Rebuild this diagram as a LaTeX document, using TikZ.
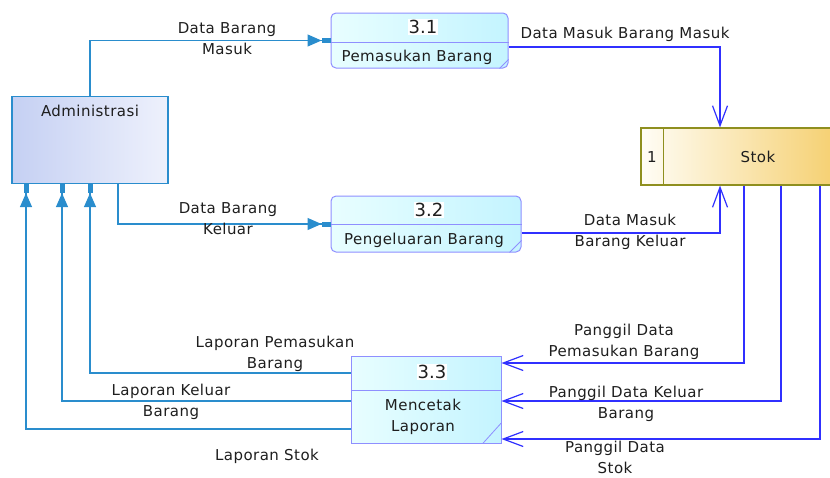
\documentclass[tikz,border=0pt]{standalone}
\usepackage{fontspec}
\newfontfamily\dfdfont{DejaVu Sans}[LetterSpace=3]
\newfontfamily\numfont{DejaVu Sans}
\usepackage{tikz}
\usetikzlibrary{arrows.meta,positioning,shapes.misc}
\definecolor{admline}{HTML}{2A8DCD}
\definecolor{admA}{HTML}{C5D0F3}
\definecolor{admB}{HTML}{EEF1FC}
\definecolor{procline}{HTML}{8F8FFF}
\definecolor{procA}{HTML}{E8FEFF}
\definecolor{procB}{HTML}{C4F4FF}
\definecolor{flowline}{HTML}{3030FF}
\definecolor{storeline}{HTML}{8F8F1F}
\definecolor{storeA}{HTML}{FFFDF6}
\definecolor{storeB}{HTML}{F5CF6E}
\definecolor{txtc}{HTML}{1E1E1E}
\tikzset{
  dfdtext/.style={font=\dfdfont\fontsize{15}{21}\selectfont, text=txtc, inner sep=0pt, align=center},
  numtext/.style={font=\numfont\fontsize{18}{20}\selectfont, text=txtc, fill=white, inner sep=1pt},
  extent/.style={draw=admline, line width=1.2pt, left color=admA, right color=admB, minimum width=156, minimum height=87},
  proc/.style={draw=procline, line width=1pt, left color=procA, right color=procB, rounded corners=5pt},
  procmr/.style={draw=procline, line width=1pt, left color=procA, right color=procB, chamfered rectangle, chamfered rectangle xsep=8pt, chamfered rectangle ysep=8pt, inner sep=0pt},
  store/.style={draw=storeline, line width=1.2pt, left color=storeA, right color=storeB},
  flowa/.style={draw=admline, line width=1.2pt, -{Triangle[length=14pt,width=12pt]Rectangle[length=9pt,width=5pt]}},
  flowb/.style={draw=flowline, line width=1.2pt, -{Straight Barb[length=20pt,width=15pt]}}
}
\begin{document}
\begin{tikzpicture}[x=1pt,y=-1pt]
\path[use as bounding box] (0,0) rectangle (830,477);
\clip (0,0) rectangle (830,477);

\node[extent] (adm) at (90,140) {};
\node[dfdtext] at (90,111) {Administrasi};

\node[proc, minimum width=177, minimum height=55] (p31) at (419.5,40.5) {};
\draw[procline, line width=1pt] ([yshift=-1.5pt]p31.west) -- ([yshift=-1.5pt]p31.east);
\draw[procline, line width=0.8pt] ([yshift=9pt]p31.south east) -- ([xshift=-9pt]p31.south east);
\node[numtext] at (423,27) {3.1};
\node[dfdtext] at (417,57) {Pemasukan Barang};

\node[proc, minimum width=190, minimum height=56] (p32) at (426,224) {};
\draw[procline, line width=1pt] (p32.west) -- (p32.east);
\draw[procline, line width=0.8pt] ([yshift=12pt]p32.south east) -- ([xshift=-12pt]p32.south east);
\node[numtext] at (429,210) {3.2};
\node[dfdtext] at (424,240) {Pengeluaran Barang};

\node[procmr, minimum width=150, minimum height=87] (p33) at (426,399.5) {};
\draw[procline, line width=1pt] ([yshift=9.5pt]p33.west) -- ([yshift=9.5pt]p33.east);
\draw[procline, line width=0.8pt] ([yshift=20pt]p33.south east) -- ([xshift=-18pt]p33.south east);
\node[numtext] at (432,372) {3.3};
\node[dfdtext] at (423,417) {Mencetak\\Laporan};

\node[store, minimum width=199, minimum height=57] (stok) at (740.5,156.5) {};
\draw[storeline, line width=1.2pt] ([xshift=23pt]stok.north west) -- ([xshift=23pt]stok.south west);
\node[dfdtext] at (652,157) {1};
\node[dfdtext] at (758,157) {Stok};

\draw[flowa] (adm.north) |- (p31.west);
\draw[flowa] ([xshift=28pt]adm.south) |- (p32.west);
\draw[flowb] ([yshift=-6.5pt]p31.east) -| ([xshift=-20.5pt]stok.north);
\draw[flowb] ([yshift=-9pt]p32.east) -| ([xshift=-20.5pt]stok.south);
\draw[flowb] ([xshift=3.5pt]stok.south) |- ([yshift=36.5pt]p33.east);
\draw[flowb] ([xshift=40.5pt]stok.south) |- ([yshift=-1.5pt]p33.east);
\draw[flowb] ([xshift=79.5pt]stok.south) |- ([yshift=-39.5pt]p33.east);
\draw[flowa] ([yshift=26.5pt]p33.west) -| (adm.south);
\draw[flowa] ([yshift=-1.5pt]p33.west) -| ([xshift=-28pt]adm.south);
\draw[flowa] ([yshift=-29.5pt]p33.west) -| ([xshift=-64pt]adm.south);

\node[dfdtext] at (227,38.5) {Data Barang\\Masuk};
\node[dfdtext] at (228,218.5) {Data Barang\\Keluar};
\node[dfdtext] at (625,34) {Data Masuk Barang Masuk};
\node[dfdtext] at (630,231.5) {Data Masuk\\Barang Keluar};
\node[dfdtext] at (624,341.5) {Panggil Data\\Pemasukan Barang};
\node[dfdtext] at (626,404) {Panggil Data Keluar\\Barang};
\node[dfdtext] at (615,457) {Panggil Data\\Stok};
\node[dfdtext] at (275,354) {Laporan Pemasukan\\Barang};
\node[dfdtext] at (171,401.5) {Laporan Keluar\\Barang};
\node[dfdtext] at (267,456) {Laporan Stok};
\end{tikzpicture}
\end{document}
